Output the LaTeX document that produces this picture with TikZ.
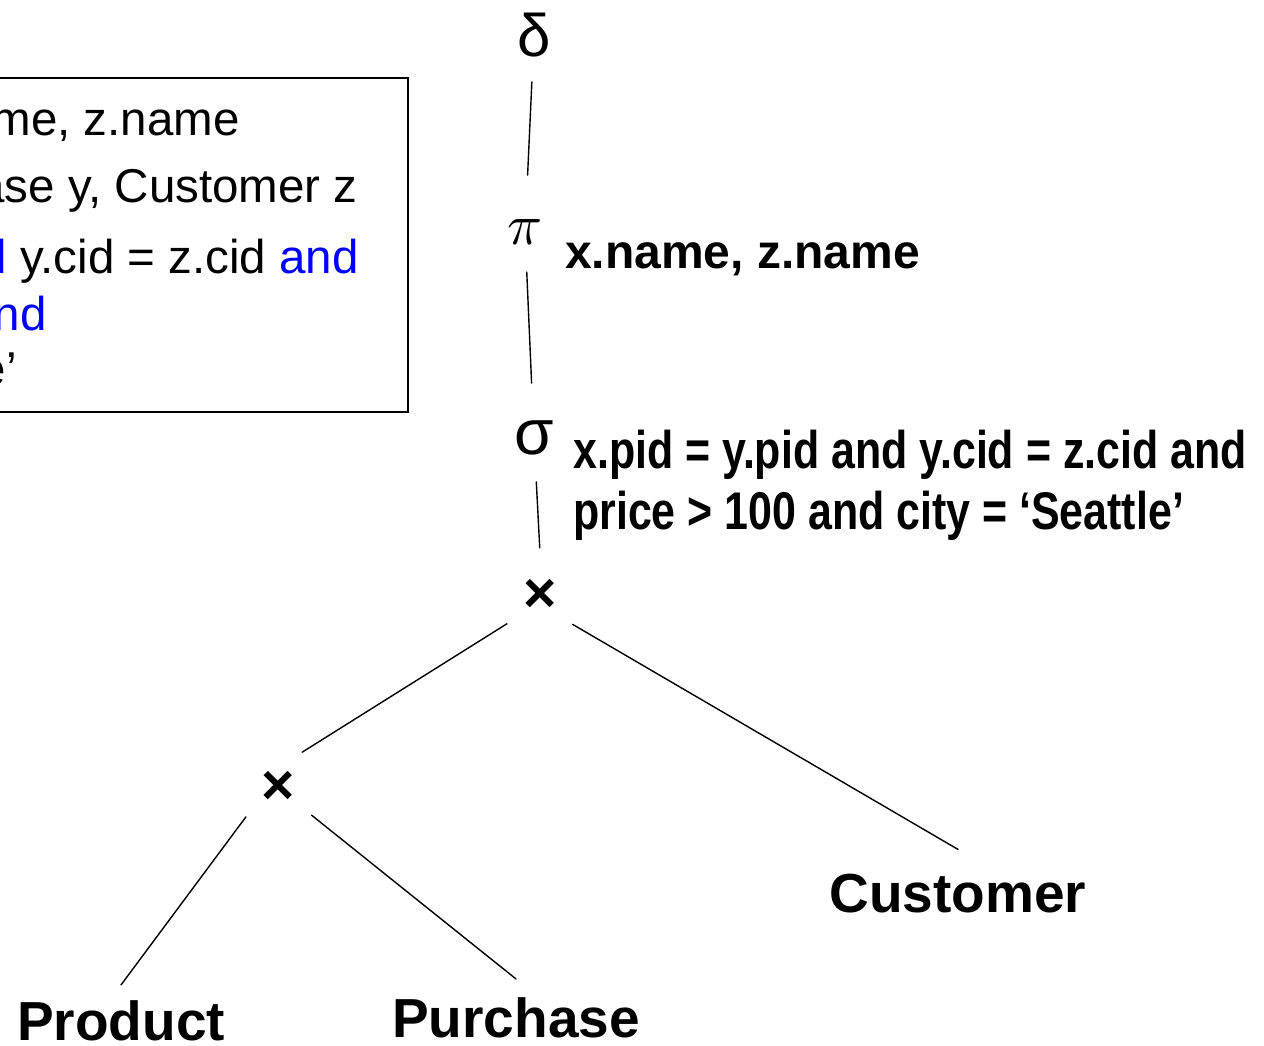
\documentclass[tikz,border=0pt]{standalone}
\usepackage{fontspec}
\setmainfont{Liberation Sans}
\usepackage{graphicx}
\begin{document}
\begin{tikzpicture}[x=1pt,y=-1pt,
  edge/.style={line width=1.4pt, line cap=round},
  greek/.style={inner sep=0pt, font=\fontsize{60}{60}\selectfont},
  prodop/.style={circle, inner sep=0pt, minimum size=86pt,
    font=\fontsize{57}{60}\selectfont\bfseries},
  leaf/.style={anchor=base, inner xsep=0pt,
    font=\fontsize{55}{60}\selectfont\bfseries},
  cond/.style={anchor=base west, inner sep=0pt,
    font=\fontsize{53}{61}\selectfont\bfseries},
  sql/.style={anchor=base east, inner sep=0pt,
    font=\fontsize{47.5}{56}\selectfont}
]
\useasboundingbox (0,0) rectangle (1264,1045);
\clip (0,0) rectangle (1264,1045);

% SQL query box (partly outside the page on the left)
\draw[line width=2pt] (-20,78) rectangle (408,412);
\node[sql] (q1) at (240,135) {{\color{blue}SELECT DISTINCT} x.name, z.name};
\node[sql] (q2) at (358,202) {{\color{blue}FROM} Product x, Purchase y, Customer z};
\node[sql] (q3) at (359,273) {{\color{blue}WHERE} x.pid = y.pid {\color{blue}and} y.cid = z.cid {\color{blue}and}};
\node[sql] (q4) at (47,330) {x.price > 100 {\color{blue}and}};
\node[sql] (q5) at (17,385) {z.city = ‘Seattle’};

% operator tree
\node[greek] (delta) at (534,35) {δ};
\node[inner sep=0pt, font=\fontsize{10}{12}\selectfont] (pi) at (525,232) {\scalebox{5.8}{$\pi$}};
\node[cond, font=\fontsize{48}{56}\selectfont\bfseries] (pilab) at (565,268) {x.name, z.name};
\node[greek, font=\fontsize{64}{64}\selectfont] (sigma) at (534,438) {σ};
\node[cond] (sig1) at (573,468) {\scalebox{0.81}[1]{x.pid = y.pid and y.cid = z.cid and}};
\node[cond] (sig2) at (573,529) {\scalebox{0.81}[1]{price > 100 and city = ‘Seattle’}};
\node[prodop] (x1) at (540,596) {×};
\node[prodop] (x2) at (278,788) {×};
\node[leaf, inner ysep=15pt] (prod) at (121,1040) {Product};
\node[leaf, inner ysep=18pt] (purch) at (516,1037) {Purchase};
\node[leaf, inner ysep=24pt] (cust) at (958,912) {Customer};

\draw[edge, shorten <=47pt, shorten >=57pt] (delta.center) -- (pi.center);
\draw[edge, shorten <=40pt, shorten >=55pt] (pi.center) -- (sigma.center);
\draw[edge, shorten <=44pt, shorten >=5pt] (sigma.center) -- (x1.north);
\draw[edge] (x1.220) -- (x2.56);
\draw[edge] (x1.319) -- (cust.north);
\draw[edge] (x2.222) -- (prod.north);
\draw[edge] (x2.321) -- (purch.north);
\end{tikzpicture}
\end{document}
